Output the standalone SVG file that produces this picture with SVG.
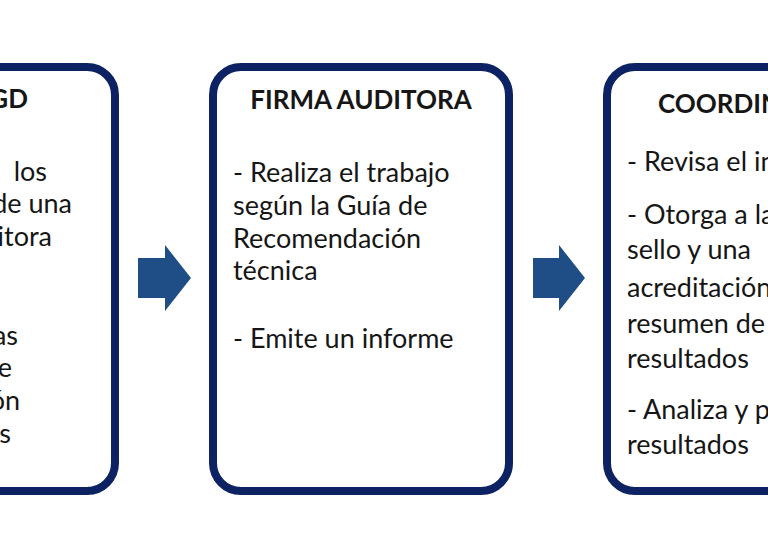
<svg xmlns="http://www.w3.org/2000/svg" width="768" height="550" viewBox="0 0 768 550">
<style>
.box{fill:#ffffff;stroke:#0c2262;stroke-width:8}
.arrow{fill:#1f4e86}
.t{font-family:Lato,"Liberation Sans",sans-serif;font-size:27px;fill:#161616}
.h{font-family:Lato,"Liberation Sans",sans-serif;font-size:26px;font-weight:bold;fill:#161616}
</style>
<rect width="768" height="550" fill="#ffffff"/>
<g id="node-left">
<rect class="box" x="-181" y="67" width="296" height="424" rx="28"/>
<text class="h" x="28" y="108" text-anchor="end">GD</text>
<text class="t" x="47" y="181" text-anchor="end">los</text>
<text class="t" x="72" y="213" text-anchor="end">de una</text>
<text class="t" x="52" y="246" text-anchor="end">itora</text>
<text class="t" x="18" y="345" text-anchor="end">as</text>
<text class="t" x="12" y="377" text-anchor="end">e</text>
<text class="t" x="20" y="410" text-anchor="end">ón</text>
<text class="t" x="11" y="443" text-anchor="end">s</text>
</g>
<g id="node-firma">
<rect class="box" x="213" y="67" width="296" height="424" rx="28"/>
<text class="h" x="361" y="109" text-anchor="middle">FIRMA AUDITORA</text>
<text class="t" x="233" y="182">- Realiza el trabajo</text>
<text class="t" x="233" y="215">según la Guía de</text>
<text class="t" x="233" y="248">Recomendación</text>
<text class="t" x="233" y="280">técnica</text>
<text class="t" x="233" y="348">- Emite un informe</text>
</g>
<g id="node-coord">
<rect class="box" x="607" y="67" width="296" height="424" rx="28"/>
<text class="h" x="658" y="113">COORDIN</text>
<text class="t" x="627" y="171">- Revisa el in</text>
<text class="t" x="627" y="224">- Otorga a la</text>
<text class="t" x="627" y="259">sello y una</text>
<text class="t" x="627" y="297">acreditación</text>
<text class="t" x="627" y="333">resumen de</text>
<text class="t" x="627" y="368">resultados</text>
<text class="t" x="627" y="419">- Analiza y p</text>
<text class="t" x="627" y="454">resultados</text>
</g>
<g id="connectors">
<polygon class="arrow" points="138,258 165,258 165,245 191,278 165,311 165,298 138,298"/>
<polygon class="arrow" points="533,258 559,258 559,245 585,278 559,311 559,298 533,298"/>
</g>
</svg>
